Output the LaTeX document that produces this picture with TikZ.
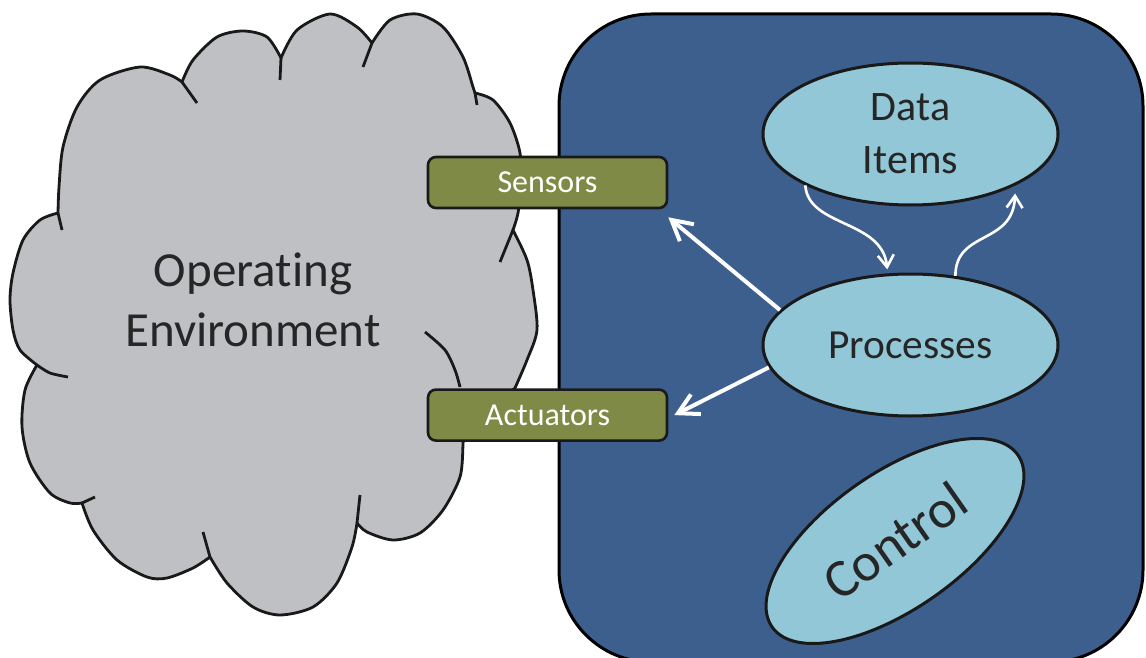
\documentclass[tikz,border=0pt]{standalone}
\usepackage{fontspec}
\setmainfont{Carlito}[Ligatures=NoCommon]
\usepackage{tikz}
\usetikzlibrary{positioning, shapes.geometric, arrows.meta}
\definecolor{sysblue}{HTML}{3D5F8E}
\definecolor{envgray}{HTML}{BFC0C4}
\definecolor{partblue}{HTML}{92C7D7}
\definecolor{devgreen}{HTML}{7F8A47}
\definecolor{inktext}{HTML}{262626}
\tikzset{system/.style={rectangle, rounded corners=46pt, minimum width=292pt, minimum height=324pt, draw=black, line width=1.5pt, fill=sysblue},
         envcloud/.style={draw=black!90, line width=1.4pt, line join=round, fill=envgray},
         envline/.style={draw=black!90, line width=1.4pt},
         device/.style={rectangle, rounded corners=4pt, minimum width=119.5pt, minimum height=25.5pt, draw=black!90, line width=1.3pt, fill=devgreen, text=white, font=\fontsize{16}{19}\selectfont},
         part/.style={ellipse, minimum width=147.5pt, minimum height=71pt, draw=black!90, line width=1.5pt, fill=partblue, text=inktext, align=center, font=\fontsize{21}{26.5}\selectfont},
         push/.style={white, line width=2pt, -{Straight Barb[length=10pt, width=11pt]}},
         flow/.style={white, line width=1.3pt, -{Straight Barb[length=6pt, width=8pt]}}}
\begin{document}
\begin{tikzpicture}[x=0.5pt, y=-0.5pt, node distance=89.5pt]
    \useasboundingbox (0,0) rectangle (1146,658);
    \node (sys)[system] at (851,338) {};
    % operating environment
    \draw[envcloud] plot[smooth] coordinates {(58,213) (59,187) (63,147) (77,107) (100,80) (140,67) (170,75) (182,82)}
        -- plot[smooth] coordinates {(182,82) (193,60) (217,37) (243,31) (267,37) (281,58)}
        -- plot[smooth] coordinates {(281,58) (297,30) (330,14) (357,27) (372,43)}
        -- plot[smooth] coordinates {(372,43) (390,20) (417,14) (443,27) (463,57) (473,87) (475,93)}
        -- plot[smooth] coordinates {(475,93) (493,100) (510,123) (520,153) (521,185) (518,213) (513,230)}
        -- plot[smooth] coordinates {(513,230) (527,260) (533,290) (537,330) (527,360) (515,388)}
        -- plot[smooth] coordinates {(463,436) (463,445) (460,477) (443,510) (420,533) (393,540) (367,532) (357,523)}
        -- plot[smooth] coordinates {(357,523) (352,547) (337,583) (313,607) (280,615) (253,607) (227,583) (210,557)}
        -- plot[smooth] coordinates {(210,557) (193,568) (167,578) (147,577) (117,560) (93,530) (82,503)}
        -- plot[smooth] coordinates {(82,503) (70,503) (50,493) (30,463) (22,427) (25,390) (37,365)}
        -- plot[smooth] coordinates {(37,365) (20,350) (13,330) (10,300) (13,273) (23,240) (40,220) (58,213)} -- cycle;
    \draw[envline] (58,213) -- (62,230) (182,82) -- (197,103) (281,58) -- (280,80) (372,43) -- (363,67)
        (475,93) -- (477,105) (513,230) -- (500,262) (357,523) -- (360,495) (210,557) -- (203,532) (82,503) -- (95,497);
    \draw[envline] plot[smooth] coordinates {(425,332) (445,350) (455,370) (460,387)};
    \draw[envline] plot[smooth] coordinates {(37,365) (50,373) (68,377)};
    \node (env)[text=inktext, align=center, font=\fontsize{24.5}{30}\selectfont] at (253,300) {Operating\\Environment};
    % sensors and actuators
    \node (sens)[device] at (547.5,182.5) {Sensors};
    \node (act)[device, below=of sens] {Actuators};
    % system parts
    \node (proc)[part, font=\fontsize{20.7}{25}\selectfont] at (910.5,345) {Processes};
    \node (items)[part, above=33pt of proc] {Data\\Items};
    \node (ctrl)[part, minimum width=150pt, minimum height=68pt, rotate=35, font=\fontsize{27}{32}\selectfont] at (895,541) {Control};
    \draw[push] (proc.165) -- ([yshift=-4pt]sens.south east);
    \draw[push] (proc.189) -- ([xshift=3pt]act.east);
    \draw[flow] (items.206) .. controls +(3,42) and +(-5,-50) .. ([yshift=2pt]proc.108);
    \draw[flow] (proc.57) .. controls +(0,-46) and +(-2,52) .. ([shift={(2pt,-3pt)}]items.-28);
\end{tikzpicture}
\end{document}
